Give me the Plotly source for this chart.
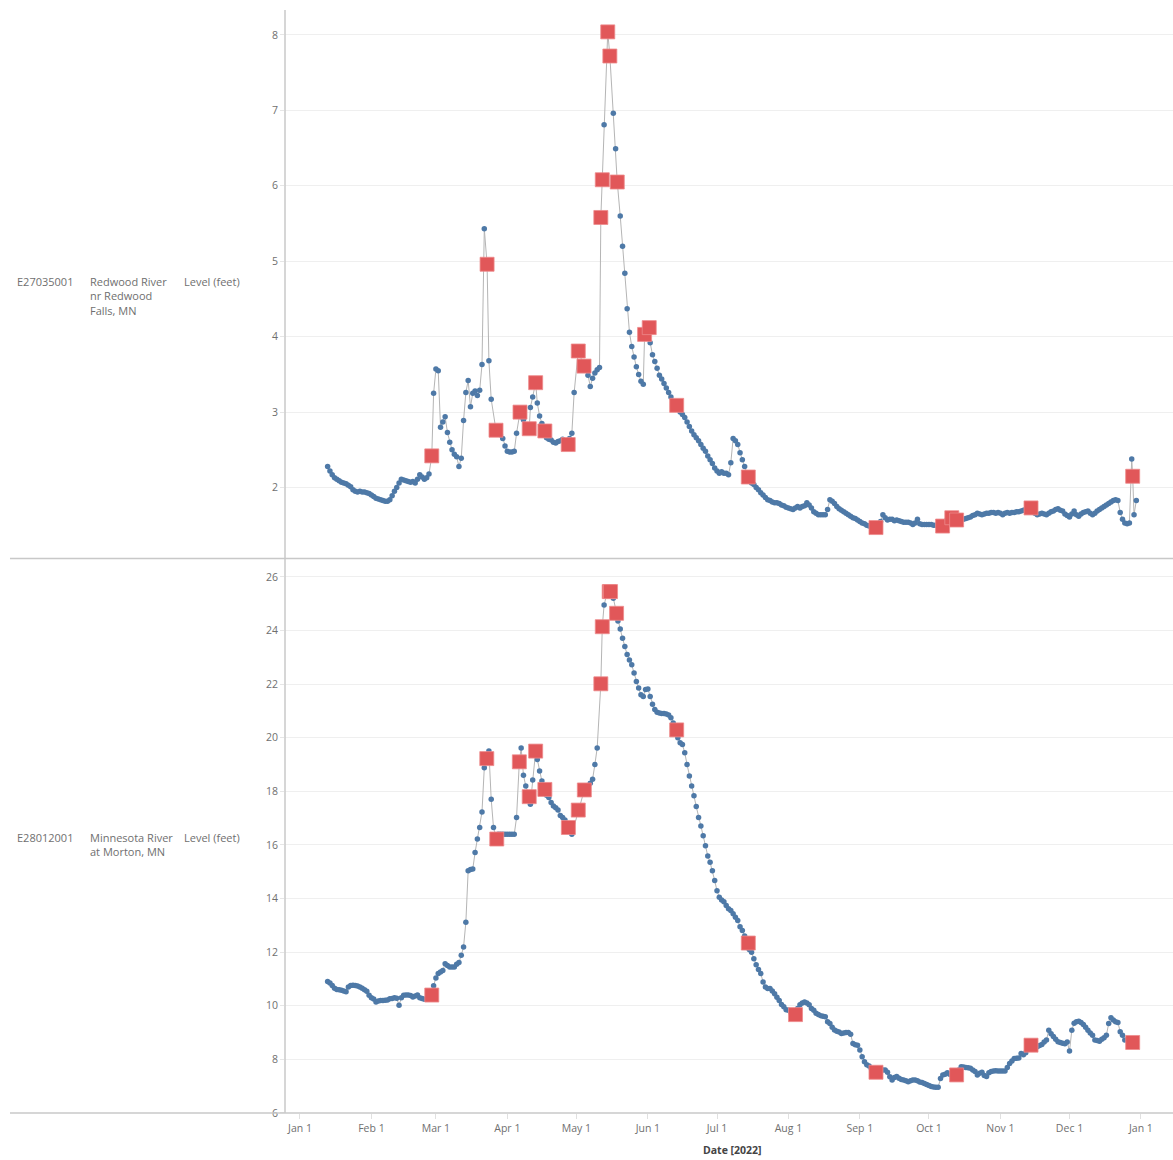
import pandas as pd
import plotly.graph_objects as go
from plotly.subplots import make_subplots

# ---------------- data ----------------
series_start = "2022-01-13"

# E27035001 Redwood River nr Redwood Falls, MN  - daily level (feet), None = no daily point
redwood_daily = [
    2.28, 2.22, 2.17, 2.13, 2.11, 2.09, 2.07, 2.06, 2.05, 2.03,
    2.01, 1.97, 1.95, 1.94, 1.95, 1.94, 1.94, 1.93, 1.92, 1.90,
    1.88, 1.86, 1.85, 1.84, 1.83, 1.82, 1.82, 1.84, 1.89, 1.95,
    2.00, 2.06, 2.11, 2.10, 2.09, 2.08, 2.07, 2.08, 2.06, 2.11,
    2.17, 2.14, 2.11, 2.13, 2.18, None, 3.25, 3.57, 3.55, 2.80,
    2.87, 2.94, 2.73, 2.60, 2.50, 2.44, 2.41, 2.28, 2.39, 2.89,
    3.26, 3.42, 3.07, 3.25, 3.28, 3.22, 3.29, 3.63, 5.43, None,
    3.68, 3.17, None, None, 2.72, 2.70, 2.65, 2.55, 2.48, 2.47,
    2.47, 2.48, 2.72, None, 2.94, 2.90, None, None, 3.06, 3.20,
    None, 3.12, 2.95, 2.85, None, 2.66, 2.64, 2.63, 2.60, 2.59,
    2.61, 2.62, 2.64, 2.62, None, 2.65, 2.72, 3.26, None, None,
    None, None, None, 3.49, 3.34, 3.45, 3.52, 3.56, 3.59, None,
    6.81, None, None, None, 6.96, 6.49, None, 5.60, 5.20, 4.84,
    4.37, 4.06, 3.87, 3.73, 3.60, 3.50, 3.41, 3.37, None, None,
    3.92, 3.76, 3.67, 3.58, 3.49, 3.44, 3.38, 3.32, 3.26, 3.20,
    3.14, None, 3.04, 3.00, 2.97, 2.93, 2.87, 2.81, 2.75, 2.70,
    2.66, 2.62, 2.57, 2.52, 2.48, 2.42, 2.37, 2.32, 2.26, 2.22,
    2.19, 2.21, 2.19, 2.19, 2.17, 2.33, 2.65, 2.62, 2.57, 2.46,
    2.37, 2.28, None, 2.10, 2.06, 2.04, 2.00, 1.97, 1.93, 1.90,
    1.87, 1.84, 1.83, 1.81, 1.80, 1.80, 1.79, 1.77, 1.76, 1.74,
    1.73, 1.72, 1.71, 1.73, 1.75, 1.73, 1.75, 1.76, 1.80, 1.77,
    1.73, 1.68, 1.66, 1.64, 1.64, 1.64, 1.64, 1.71, 1.84, 1.82,
    1.79, 1.75, 1.72, 1.70, 1.68, 1.66, 1.64, 1.62, 1.60, 1.59,
    1.57, 1.55, 1.53, 1.52, 1.50, 1.49, 1.48, 1.47, None, 1.50,
    1.55, 1.64, 1.60, 1.57, 1.58, 1.58, 1.56, 1.57, 1.56, 1.55,
    1.54, 1.54, 1.54, 1.53, 1.51, 1.53, 1.58, 1.52, 1.51, 1.51,
    1.51, 1.51, 1.51, 1.50, 1.50, 1.49, 1.49, None, 1.55, 1.58,
    1.60, None, 1.58, None, 1.57, 1.58, 1.58, 1.59, 1.60, 1.61,
    1.63, 1.64, 1.66, 1.65, 1.64, 1.65, 1.66, 1.66, 1.67, 1.67,
    1.66, 1.67, 1.66, 1.64, 1.66, 1.67, 1.66, 1.67, 1.67, 1.68,
    1.68, 1.69, 1.70, 1.71, 1.72, None, 1.70, 1.66, 1.64, 1.65,
    1.66, 1.65, 1.64, 1.66, 1.68, 1.69, 1.71, 1.72, 1.70, 1.69,
    1.65, 1.63, 1.61, 1.65, 1.69, 1.64, 1.62, 1.65, 1.67, 1.68,
    1.69, 1.66, 1.64, 1.66, 1.69, 1.71, 1.73, 1.75, 1.77, 1.79,
    1.81, 1.83, 1.84, 1.83, 1.67, 1.58, 1.53, 1.52, 1.53, 2.38,
    1.64, 1.83,
]

# E28012001 Minnesota River at Morton, MN - daily level (feet)
morton_daily = [
    10.91, 10.85, 10.76, 10.65, 10.61, 10.60, 10.58, 10.55, 10.52, 10.70,
    10.76, 10.77, 10.76, 10.74, 10.70, 10.65, 10.60, 10.54, 10.39, 10.30,
    10.25, 10.14, 10.18, 10.20, 10.20, 10.21, 10.22, 10.26, 10.27, 10.30,
    10.28, 10.02, 10.30, 10.39, 10.40, 10.40, 10.38, 10.33, 10.36, 10.40,
    10.30, 10.27, 10.24, 10.24, 10.30, None, 10.75, 11.04, 11.20, 11.26,
    11.32, 11.57, 11.50, 11.45, 11.45, 11.45, 11.55, 11.61, 11.88, 12.19,
    13.12, 15.04, 15.08, 15.10, 15.72, 16.22, 16.65, 17.23, 18.88, None,
    19.50, 17.70, 16.65, None, 16.40, 16.40, 16.40, 16.40, 16.40, 16.40,
    16.40, 16.40, 17.02, None, 19.62, 18.60, 18.20, None, 17.52, 18.42,
    None, 19.19, 18.76, 18.38, None, 17.85, 17.77, 17.58, 17.45, 17.39,
    17.30, 17.10, 17.02, 16.93, None, 16.50, 16.40, None, None, None,
    None, None, 18.10, 18.15, 18.30, 18.45, 19.00, 19.62, None, None,
    24.95, 25.30, None, None, 25.20, None, 24.35, 24.05, 23.71, 23.40,
    23.10, 22.90, 22.72, 22.41, 22.10, 21.85, 21.60, 21.54, 21.80, 21.82,
    21.54, 21.25, 21.05, 20.95, 20.92, 20.90, 20.90, 20.88, 20.85, 20.74,
    20.55, None, 20.00, 19.81, 19.75, 19.44, 19.00, 18.57, 18.20, 17.83,
    17.43, 17.02, 16.71, 16.34, 15.97, 15.59, 15.35, 15.04, 14.67, 14.29,
    14.05, 13.95, 13.88, 13.74, 13.62, 13.55, 13.43, 13.30, 13.18, 12.95,
    12.81, 12.60, None, 12.10, 12.00, 11.75, 11.53, 11.35, 11.20, 10.89,
    10.70, 10.64, 10.64, 10.55, 10.45, 10.32, 10.20, 10.05, 9.96, 9.85,
    9.83, 9.75, 9.70, None, 9.90, 10.04, 10.10, 10.14, 10.10, 10.04,
    9.90, 9.83, 9.72, 9.67, 9.63, 9.61, 9.59, 9.40, 9.34, 9.20,
    9.10, 9.05, 9.02, 8.97, 8.98, 9.00, 9.00, 8.94, 8.59, 8.55,
    8.53, 8.35, 8.10, 7.91, 7.80, 7.75, 7.65, 7.58, None, 7.60,
    7.62, 7.60, 7.60, 7.52, 7.35, 7.23, 7.32, 7.36, 7.30, 7.25,
    7.23, 7.20, 7.17, 7.20, 7.23, 7.23, 7.20, 7.16, 7.14, 7.10,
    7.06, 7.03, 6.99, 6.97, 6.96, 6.96, 7.29, 7.42, 7.45, 7.50,
    7.45, 7.42, 7.40, None, 7.60, 7.73, 7.72, 7.70, 7.69, 7.67,
    7.60, 7.55, 7.42, 7.48, 7.52, 7.40, 7.36, 7.50, 7.55, 7.57,
    7.58, 7.57, 7.57, 7.57, 7.57, 7.70, 7.85, 7.94, 8.03, 8.04,
    8.05, 8.22, 8.17, 8.25, 8.40, None, 8.50, 8.48, 8.47, 8.52,
    8.56, 8.65, 8.72, 9.09, 8.96, 8.85, 8.75, 8.66, 8.63, 8.60,
    8.58, 8.65, 8.31, 9.09, 9.35, 9.40, 9.42, 9.38, 9.30, 9.20,
    9.09, 8.98, 8.90, 8.72, 8.70, 8.68, 8.75, 8.81, 8.90, 9.34,
    9.55, 9.47, 9.40, 9.38, 9.03, 8.90, 8.72,
]

# field measurements (red squares)
redwood_field_times = [
    "2022-02-27 05:00", "2022-03-23 05:00", "2022-03-27 02:00", "2022-04-06 12:00",
    "2022-04-10 12:00", "2022-04-13 07:00", "2022-04-17 07:00", "2022-04-27 10:00",
    "2022-05-01 19:00", "2022-05-04 07:00", "2022-05-11 14:00", "2022-05-12 05:00",
    "2022-05-14 14:00", "2022-05-15 12:00", "2022-05-18 17:00", "2022-05-30 14:00",
    "2022-06-01 14:00", "2022-06-13 12:00", "2022-07-14 14:00", "2022-09-08 00:00",
    "2022-10-06 22:00", "2022-10-10 22:00", "2022-10-13 00:00", "2022-11-14 07:00",
    "2022-12-28 10:00",
]
redwood_field_levels = [
    2.42, 4.96, 2.76, 3.00, 2.78, 3.39, 2.75, 2.57, 3.81, 3.61, 5.58, 6.08, 8.04,
    7.72, 6.05, 4.03, 4.12, 3.09, 2.14, 1.47, 1.49, 1.60, 1.57, 1.73, 2.15,
]

morton_field_times = [
    "2022-02-27 05:00", "2022-03-23 02:00", "2022-03-27 10:00", "2022-04-06 05:00",
    "2022-04-10 12:00", "2022-04-13 07:00", "2022-04-17 07:00", "2022-04-27 12:00",
    "2022-05-01 19:00", "2022-05-04 10:00", "2022-05-11 14:00", "2022-05-12 05:00",
    "2022-05-15 05:00", "2022-05-15 19:00", "2022-05-18 10:00", "2022-06-13 12:00",
    "2022-07-14 14:00", "2022-08-04 02:00", "2022-09-08 00:00", "2022-10-13 00:00",
    "2022-11-14 07:00", "2022-12-28 10:00",
]
morton_field_levels = [
    10.40, 19.22, 16.22, 19.10, 17.80, 19.50, 18.07, 16.65, 17.30, 18.05, 22.01,
    24.14, 25.45, 25.45, 24.64, 20.29, 12.34, 9.67, 7.52, 7.42, 8.53, 8.63,
]

month_ticks = [
    "2022-01-01", "2022-02-01", "2022-03-01", "2022-04-01", "2022-05-01", "2022-06-01",
    "2022-07-01", "2022-08-01", "2022-09-01", "2022-10-01", "2022-11-01", "2022-12-01",
    "2023-01-01",
]
month_labels = ["Jan 1", "Feb 1", "Mar 1", "Apr 1", "May 1", "Jun 1", "Jul 1",
                "Aug 1", "Sep 1", "Oct 1", "Nov 1", "Dec 1", "Jan 1"]

redwood_ticks = [2, 3, 4, 5, 6, 7, 8]
morton_ticks = [6, 8, 10, 12, 14, 16, 18, 20, 22, 24, 26]

# ---------------- figure ----------------
FONT = "Open Sans"
BLUE = "#4e79a7"
RED = "#e15759"
LINE = "#b5b5b5"
AXIS = "#c8c8c8"
TXT = "#6f6f6f"

fig = make_subplots(rows=2, cols=1, shared_xaxes=True)

stations = [
    (redwood_daily, redwood_field_times, redwood_field_levels),
    (morton_daily, morton_field_times, morton_field_levels),
]
for row, (daily, ftimes, flevels) in enumerate(stations, start=1):
    blue = pd.DataFrame({"t": pd.date_range(series_start, periods=len(daily), freq="D"),
                         "v": pd.Series(daily, dtype="float64")}).dropna()
    red = pd.DataFrame({"t": pd.to_datetime(ftimes), "v": flevels})
    both = pd.concat([blue, red]).sort_values("t")
    fig.add_trace(go.Scatter(x=both["t"], y=both["v"], mode="lines",
                             line=dict(color=LINE, width=1), hoverinfo="skip"),
                  row=row, col=1)
    fig.add_trace(go.Scatter(x=blue["t"], y=blue["v"], mode="markers",
                             marker=dict(color=BLUE, size=5.5, line=dict(width=0))),
                  row=row, col=1)
    fig.add_trace(go.Scatter(x=red["t"], y=red["v"], mode="markers",
                             marker=dict(color=RED, size=14, symbol="square",
                                         line=dict(width=0.8, color="#ee8a8b"))),
                  row=row, col=1)

xrange = ["2021-12-25 12:00", "2023-01-14 22:00"]
TICKFONT = dict(family=FONT, size=10.5, color=TXT)
yax_common = dict(showgrid=True, gridcolor="#efefef", gridwidth=1, zeroline=False,
                  showline=False, ticks="outside", ticklen=4, tickcolor="#e6e6e6",
                  tickfont=TICKFONT, automargin=False)

fig.update_layout(
    width=1173, height=1160, autosize=False,
    margin=dict(l=285, r=0, t=10, b=47, pad=0, autoexpand=False),
    paper_bgcolor="white", plot_bgcolor="white",
    showlegend=False,
    font=dict(family=FONT, size=11, color=TXT),
    xaxis=dict(range=xrange, showgrid=False, zeroline=False, showticklabels=False,
               ticks="", showline=False, automargin=False),
    xaxis2=dict(range=xrange, showgrid=False, zeroline=False, showline=False,
                tickvals=month_ticks, ticktext=month_labels, ticks="outside",
                ticklen=5, tickcolor="#e0e0e0", tickfont=TICKFONT, automargin=False),
    yaxis=dict(domain=[0.5041, 1.0], range=[1.08, 8.33], tickvals=redwood_ticks,
               **yax_common),
    yaxis2=dict(domain=[0.0, 0.5014], range=[6.0, 26.63], tickvals=morton_ticks,
                **yax_common),
)

# frame lines (axis line and row dividers)
fig.add_shape(type="line", xref="paper", yref="paper", x0=0, x1=0, y0=0, y1=1,
              line=dict(color=AXIS, width=1.5))
for yp in [0.5027, 0.0]:
    fig.add_shape(type="line", xref="paper", yref="paper", x0=-0.3097, x1=1,
                  y0=yp, y1=yp, line=dict(color=AXIS, width=1.5))

# row headers
headers = [
    ("E27035001", "Redwood River<br>nr Redwood<br>Falls, MN", 0.7625),
    ("E28012001", "Minnesota River<br>at Morton, MN", 0.2584),
]
for code, name, yp in headers:
    for xp, txt in [(-0.3041, code), (-0.2218, name), (-0.1160, "Level (feet)")]:
        fig.add_annotation(xref="paper", yref="paper", x=xp, y=yp, text=txt,
                           showarrow=False, xanchor="left", yanchor="top", align="left",
                           font=dict(family=FONT, size=11, color=TXT))

fig.add_annotation(xref="paper", yref="paper", x=0.5034, y=-0.0335,
                   text="<b>Date [2022]</b>", showarrow=False, xanchor="center",
                   yanchor="middle", font=dict(family=FONT, size=10.5, color="#444"))

# remove the default 8px page margin so the 1173x1160 figure fills the window exactly
fig.write_html("out.html",
               config={"displayModeBar": False},
               post_script="document.body.style.margin='0';"
                           "document.body.style.overflow='hidden';")
